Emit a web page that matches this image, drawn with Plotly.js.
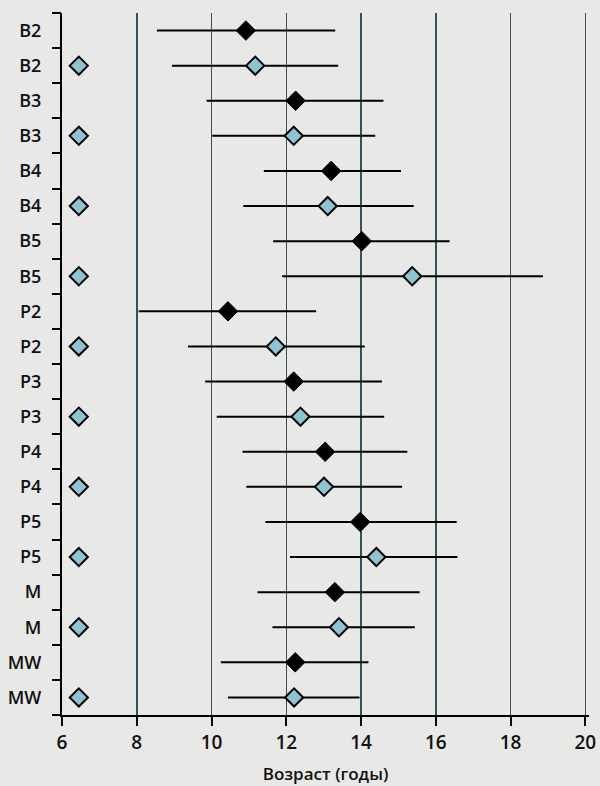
<!DOCTYPE html>
<html>
<head>
<meta charset="utf-8">
<script src="https://cdn.plot.ly/plotly-3.0.1.min.js"></script>
<style>
html,body{margin:0;padding:0;background:#e8e8e6;}
#chart{width:600px;height:786px;}
</style>
</head>
<body>
<div id="chart"></div>
<script>
// Groups (each shown on two rows: black series, then blue series)
var groups = ['B2','B3','B4','B5','P2','P3','P4','P5','M','MW'];

// Black series: mean and interval ends (years)
var blackMean = [10.92, 12.25, 13.20, 14.02, 10.44, 12.20, 13.04, 13.98, 13.30, 12.24];
var blackLow  = [ 8.54,  9.87, 11.40, 11.65,  8.05,  9.83, 10.83, 11.44, 11.23, 10.25];
var blackHigh = [13.31, 14.60, 15.07, 16.37, 12.80, 14.56, 15.24, 16.56, 15.57, 14.20];

// Blue series: mean and interval ends (years)
var blueMean = [11.17, 12.20, 13.11, 15.37, 11.72, 12.38, 13.01, 14.41, 13.41, 12.21];
var blueLow  = [ 8.94, 10.02, 10.85, 11.89,  9.37, 10.14, 10.93, 12.10, 11.63, 10.44];
var blueHigh = [13.39, 14.38, 15.41, 18.87, 14.10, 14.62, 15.10, 16.58, 15.44, 13.96];

// Small blue diamonds drawn next to the axis on every blue row
var blueTagX = [6.45, 6.45, 6.45, 6.45, 6.45, 6.45, 6.45, 6.45, 6.45, 6.45];

// X axis ticks
var xTicks = [6, 8, 10, 12, 14, 16, 18, 20];

// Row positions and tick labels
var rowLabels = [], blackY = [], blueY = [];
groups.forEach(function(g, i){
  rowLabels.push(g); rowLabels.push(g);
  blackY.push(2*i); blueY.push(2*i+1);
});
var rowIdx = rowLabels.map(function(_, i){ return i; });
var boundaries = [];
for (var k = 0; k <= rowLabels.length; k++) boundaries.push(k - 0.5);

var blueFill = '#8fc3d3';

var traces = [
  {
    x: blackMean, y: blackY, type: 'scatter', mode: 'markers',
    marker: {symbol: 'diamond', size: 15, color: '#000000', line: {color: '#000000', width: 1}},
    error_x: {type: 'data', symmetric: false,
      array: blackHigh.map(function(h, i){ return h - blackMean[i]; }),
      arrayminus: blackLow.map(function(l, i){ return blackMean[i] - l; }),
      color: '#000000', thickness: 2, width: 0},
    showlegend: false, hoverinfo: 'x'
  },
  {
    x: blueMean, y: blueY, type: 'scatter', mode: 'markers',
    marker: {symbol: 'diamond', size: 14, color: blueFill, line: {color: '#000000', width: 2}},
    error_x: {type: 'data', symmetric: false,
      array: blueHigh.map(function(h, i){ return h - blueMean[i]; }),
      arrayminus: blueLow.map(function(l, i){ return blueMean[i] - l; }),
      color: '#000000', thickness: 2, width: 0},
    showlegend: false, hoverinfo: 'x'
  },
  {
    x: blueTagX, y: blueY, type: 'scatter', mode: 'markers',
    marker: {symbol: 'diamond', size: 14, color: blueFill, line: {color: '#000000', width: 2}},
    showlegend: false, hoverinfo: 'skip'
  },
  {
    // invisible helper so the tick-mark axis is drawn
    x: [6], y: [0], yaxis: 'y2', type: 'scatter', mode: 'markers',
    marker: {opacity: 0}, showlegend: false, hoverinfo: 'skip'
  }
];

var yFont = {family: 'Open Sans, sans-serif', size: 18, color: '#111111', weight: 600};
var xFont = {family: 'Open Sans, sans-serif', size: 19, color: '#111111', weight: 600};

var layout = {
  width: 600, height: 786,
  margin: {l: 62, r: 11, t: 13, b: 71},
  paper_bgcolor: '#e8e8e6',
  plot_bgcolor: '#e8e8e6',
  xaxis: {
    range: [6, 20.1],
    tickvals: xTicks,
    ticktext: xTicks.map(String),
    ticks: 'outside', ticklen: 9, tickwidth: 2, tickcolor: '#000000',
    showline: true, linecolor: '#000000', linewidth: 2,
    showgrid: true, gridcolor: '#35525c', gridwidth: 1.5,
    zeroline: false,
    tickfont: xFont,
    title: {text: 'Возраст (годы)', font: {family: 'Open Sans, sans-serif', size: 17, color: '#111111', weight: 600}, standoff: 14}
  },
  yaxis: {
    range: [19.5, -0.5],
    tickvals: rowIdx,
    ticktext: rowLabels,
    ticks: '', showgrid: false, zeroline: false,
    showline: true, linecolor: '#000000', linewidth: 2,
    tickfont: yFont,
    ticklabelstandoff: 15
  },
  yaxis2: {
    overlaying: 'y', side: 'left',
    range: [19.5, -0.5],
    tickvals: boundaries,
    ticktext: boundaries.map(function(){ return ''; }),
    ticks: 'outside', ticklen: 9, tickwidth: 2, tickcolor: '#000000',
    showgrid: false, zeroline: false, showline: false,
    showticklabels: false
  }
};

Plotly.newPlot('chart', traces, layout, {displayModeBar: false, staticPlot: true});
</script>
</body>
</html>
